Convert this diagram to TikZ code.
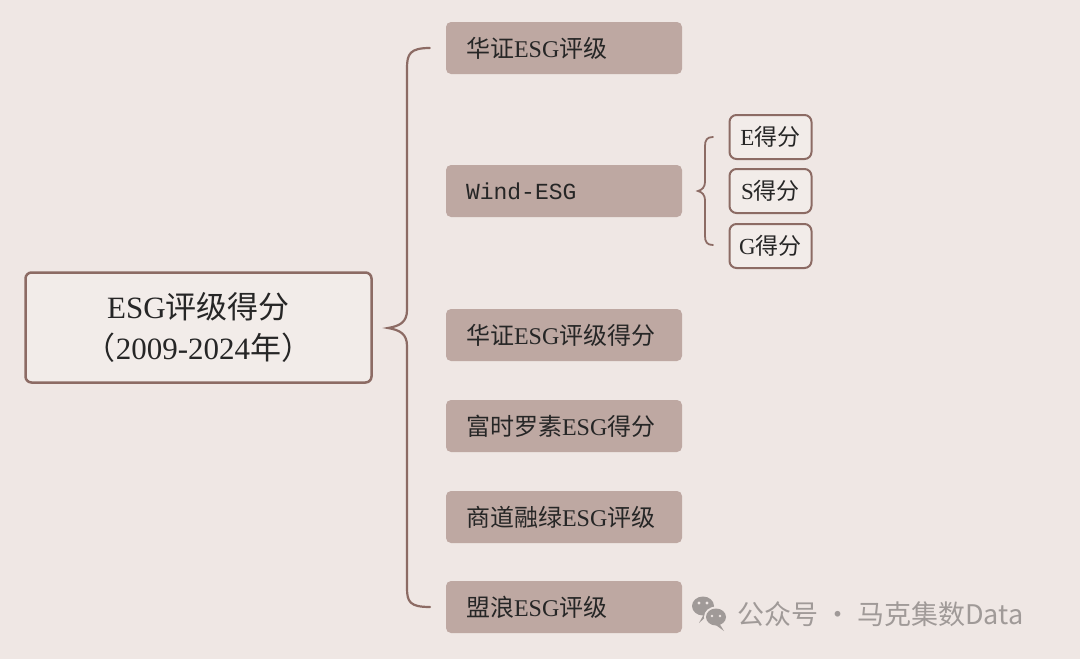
\documentclass[tikz,border=0pt]{standalone}
\usepackage{fontspec}
\setmainfont{Liberation Serif}
\newfontfamily\cjk{Noto Sans CJK SC}
\newfontfamily\mono{Liberation Mono}
\definecolor{bg}{HTML}{EFE7E4}
\definecolor{brn}{HTML}{8C6B64}
\definecolor{fillb}{HTML}{BEA8A2}
\definecolor{wm}{HTML}{A09A98}
\tikzset{
 rbox/.style={fill=fillb,rounded corners=5pt,minimum width=236pt,minimum height=52pt,text width=196pt,align=left,font=\fontsize{24}{26}\selectfont,text=black!85},
 sbox/.style={draw=brn,line width=2pt,fill=bg!80!white,rounded corners=7pt,minimum width=82pt,minimum height=44pt,inner sep=2pt,font=\fontsize{23}{24}\selectfont,text=black!85},
 brace/.style={draw=brn,line width=2.2pt,line cap=round}
}
\begin{document}
\begin{tikzpicture}[x=1pt,y=-1pt]
\fill[bg] (0,0) rectangle (1080,659);
\useasboundingbox (0,0) rectangle (1080,659);
\node[draw=brn,line width=2.5pt,fill=bg!80!white,rounded corners=6pt,minimum width=346pt,minimum height=110pt,align=center,font=\fontsize{31}{41}\selectfont,text=black!85] (main) at (198.5,327.5) {ESG{\cjk 评级得分}\\{\cjk （}2009-2024{\cjk 年）}};
\node[rbox] (b1) at (564,48) {{\cjk 华证}ESG{\cjk 评级}};
\node[rbox] (b2) at (564,191) {{\mono\fontsize{23}{24}\selectfont Wind-ESG}};
\node[rbox] (b3) at (564,335) {{\cjk 华证}ESG{\cjk 评级得分}};
\node[rbox] (b4) at (564,426) {{\cjk 富时罗素}ESG{\cjk 得分}};
\node[rbox] (b5) at (564,517) {{\cjk 商道融绿}ESG{\cjk 评级}};
\node[rbox] (b6) at (564,607) {{\cjk 盟浪}ESG{\cjk 评级}};
\node[sbox] (e) at (770.5,137) {E{\cjk 得分}};
\node[sbox] (s) at (770.5,191) {S{\cjk 得分}};
\node[sbox] (g) at (770.5,246) {G{\cjk 得分}};
\coordinate (tip) at (388,328);
\draw[brace] (b1.west) ++(-16,0) .. controls (410,48) and (407,54) .. (407,68) -- (407,310) .. controls (407,322) and (400,326) .. (tip) .. controls (400,330) and (407,334) .. (407,346) -- (407,588) .. controls (407,602) and (410,607) .. (430,607);
\coordinate (tip2) at (698,191);
\draw[draw=brn,line width=1.8pt,line cap=round] (713,137) .. controls (707,137) and (705,140) .. (705,146) -- (705,182) .. controls (705,187) and (702,190) .. (tip2) .. controls (702,192) and (705,195) .. (705,200) -- (705,236) .. controls (705,242) and (707,245) .. (713,245);
% watermark
\fill[wm] (703,606) ellipse (11 and 9.5);
\fill[wm] (704,614) -- (699,623) -- (709,614) -- cycle;
\fill[bg] (716,617) ellipse (12 and 10.5);
\fill[wm] (716,617) ellipse (10 and 8.5);
\fill[wm] (719,623) -- (724,631) -- (713,623) -- cycle;
\fill[bg] (699,603) circle (1.7) (707,603) circle (1.7) (712,616) circle (1.4) (720,616) circle (1.4);
\node[anchor=west,text=wm,font=\cjk\fontsize{27}{28}\selectfont,inner sep=0] (wt) at (737,614) {公众号 · 马克集数Data};
\end{tikzpicture}
\end{document}
